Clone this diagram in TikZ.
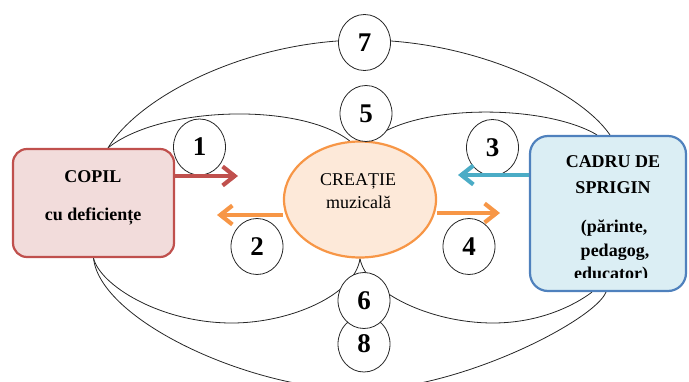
\documentclass[tikz,border=0pt]{standalone}
\usepackage{fontspec}
\setmainfont{Liberation Serif}
\usetikzlibrary{arrows.meta,shapes.geometric}
\definecolor{cred}{HTML}{C0504D}
\definecolor{credfill}{HTML}{F2DCDB}
\definecolor{corange}{HTML}{F79646}
\definecolor{corangefill}{HTML}{FDE9D9}
\definecolor{cblue}{HTML}{4F81BD}
\definecolor{cbluefill}{HTML}{DBEEF4}
\definecolor{caqua}{HTML}{4BACC6}
\pgfdeclarelayer{bg}\pgfsetlayers{bg,main}
\begin{document}
\begin{tikzpicture}[x=1pt,y=-1pt,
  numc/.style={ellipse, draw=black!85, line width=0.8pt, fill=white, minimum width=52pt, minimum height=56pt, inner sep=0pt, font=\fontsize{27}{27}\selectfont\bfseries},
  link/.style={draw=black!85, line width=0.8pt},
  bigarrow/.style={line width=4.2pt, -{Straight Barb[length=12pt,width=19pt]}},
  boldtxt/.style={font=\fontsize{18}{18}\selectfont\bfseries, anchor=base, inner sep=0pt},
  plaintxt/.style={font=\fontsize{18}{18}\selectfont, anchor=base, inner sep=0pt},
  boxstyle/.style={line width=2.2pt, minimum width=161pt, minimum height=108pt}]
\useasboundingbox (0,0) rectangle (689,381);

% main shapes
\node[boxstyle, draw=cred, fill=credfill, rounded corners=14pt] (copil) at (93.5,203) {};
\node[boxstyle, draw=cblue, fill=cbluefill, rounded corners=18pt, minimum width=156pt, minimum height=155pt] (cadru) at (608,213.5) {};
\node[ellipse, draw=corange, fill=corangefill, line width=2.2pt, minimum width=152pt, minimum height=116pt, inner sep=0pt] (creatie) at (360,199.5) {};

% connecting curves (behind everything)
\begin{pgfonlayer}{bg}
\draw[link] ([xshift=14.5pt]copil.north) .. controls (160,106) and (300,102) .. (creatie.100);
\draw[link] (creatie.80) .. controls (415,103) and (545,104) .. ([xshift=-11pt]cadru.north);
\draw[link] ([xshift=14.5pt]copil.north) .. controls (140,95) and (250,40) .. (364,40)
   .. controls (473.5,40) and (579,90) .. ([xshift=2pt]cadru.north);
\draw[link] (copil.south) .. controls (100,285) and (160,323) .. (232,323)
   .. controls (290,323) and (355,295) .. (creatie.south);
\draw[link] (creatie.south) .. controls (366,292) and (430,323) .. (493,323)
   .. controls (540,323) and (575,305) .. ([xshift=-16pt]cadru.south);
\draw[link] (copil.south) .. controls (100,320) and (250,390) .. (360,390)
   .. controls (460,390) and (595,320) .. ([xshift=-2pt]cadru.south);
\end{pgfonlayer}

% numbered circles
\node[numc] (n1) at (199.5,147) {1};
\node[numc] (n2) at (257,246.5) {2};
\node[numc] (n3) at (492.5,147.5) {3};
\node[numc] (n4) at (469,246.5) {4};
\node[numc] (n5) at (366,113.5) {5};
\node[numc] (n7) at (364.5,42.5) {7};
\node[numc] (n8) at (364,344) {8};
\node[numc] (n6) at (364,300.5) {6};

% arrows
\coordinate (t1) at (238,176);
\coordinate (t2) at (217,215);
\coordinate (t3) at (458,175);
\coordinate (t4) at (500,213);
\draw[bigarrow, cred] (copil.east |- t1) -- (t1);
\draw[bigarrow, corange] (creatie.west |- t2) -- (t2);
\draw[bigarrow, corange] (creatie.east |- t4) -- (t4);
\draw[bigarrow, caqua] (cadru.west |- t3) -- (t3);

% texts
\node[boldtxt] (copil1) at (93,182.3) {COPIL};
\node[boldtxt] (copil2) at (93,220.7) {cu deficiențe};
\node[plaintxt] (cr1) at (358,185.7) {CREAȚIE};
\node[plaintxt] (cr2) at (358.5,208) {muzicală};
\node[boldtxt] (cd1) at (613,167) {CADRU DE};
\node[boldtxt] (cd2) at (613,193.5) {SPRIGIN};
\node[boldtxt] (cd3) at (614,232) {(părinte,};
\node[boldtxt] (cd4) at (615,256.5) {pedagog,};
\begin{scope}
\clip (520,100) rectangle (689,277.7);
\node[boldtxt] (cd5) at (611,279.5) {educator)};
\end{scope}
\end{tikzpicture}
\end{document}
